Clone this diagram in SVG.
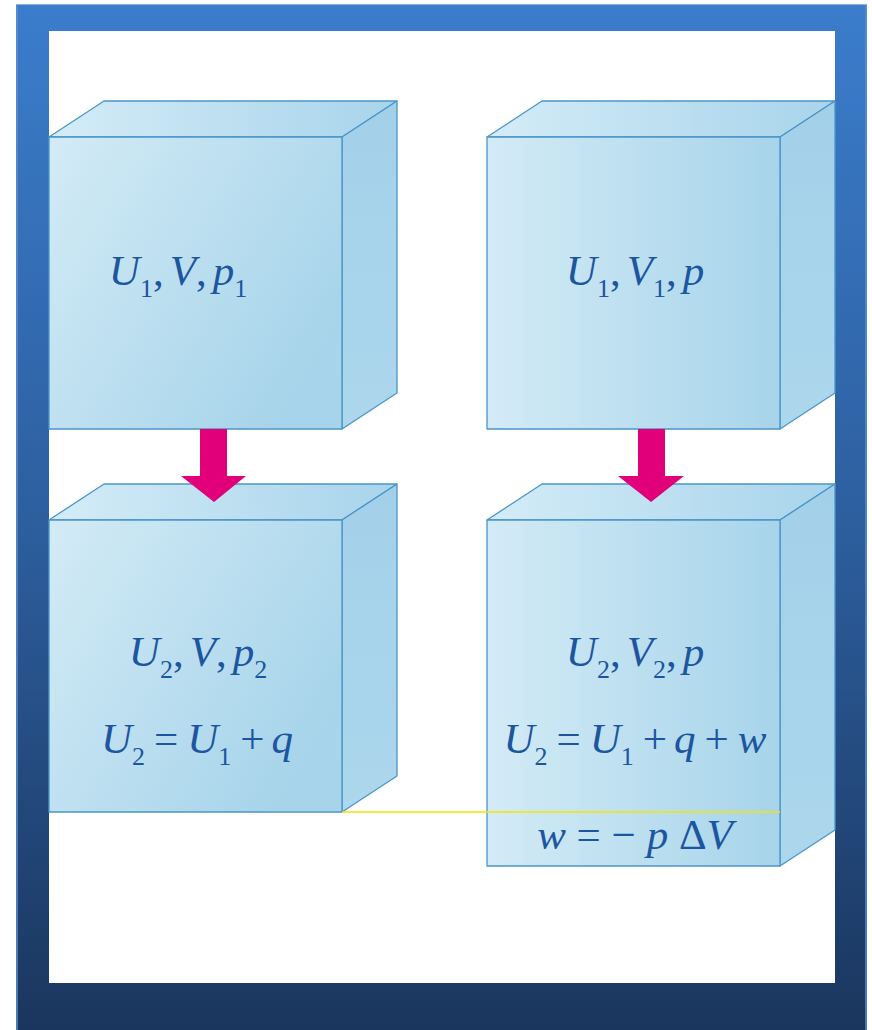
<svg xmlns="http://www.w3.org/2000/svg" width="872" height="1030" viewBox="0 0 872 1030">
<defs>
<linearGradient id="frameG" x1="0" y1="0" x2="0" y2="1">
<stop offset="0" stop-color="#3b7dcc"/>
<stop offset="0.5" stop-color="#2d5f9f"/>
<stop offset="1" stop-color="#1a365e"/>
</linearGradient>
<linearGradient id="frontG" x1="0" y1="0" x2="1" y2="0.6">
<stop offset="0" stop-color="#d3ebf6"/>
<stop offset="1" stop-color="#a7d4ea"/>
</linearGradient>
<linearGradient id="frontH" x1="0" y1="0" x2="1" y2="0">
<stop offset="0" stop-color="#d3ebf6"/>
<stop offset="1" stop-color="#a7d4ea"/>
</linearGradient>
<linearGradient id="topG" x1="0" y1="0" x2="1" y2="0">
<stop offset="0" stop-color="#d4ecf7"/>
<stop offset="1" stop-color="#a8d4eb"/>
</linearGradient>
<linearGradient id="sideG" x1="0" y1="0" x2="0" y2="1">
<stop offset="0" stop-color="#a3d0e9"/>
<stop offset="1" stop-color="#acd7ed"/>
</linearGradient>
</defs>
<style>
.face{stroke:#4b95c9;stroke-width:1.3;stroke-linejoin:round}
.front{fill:url(#frontG)}
.fronth{fill:url(#frontH)}
.top{fill:url(#topG)}
.side{fill:url(#sideG)}
.t{font-family:"Liberation Serif","Times New Roman",serif;font-size:43px;fill:#1c55a0;text-anchor:middle}
.i{font-style:italic}
.s{font-size:26px}
.arrow{fill:#e2007a}
</style>
<rect width="872" height="1030" fill="#ffffff"/>
<path d="M16,4H867V1030H16Z M49,31V983H835V31Z" fill="url(#frameG)" fill-rule="evenodd"/>
<line x1="17" y1="4" x2="17" y2="1030" stroke="#5b8fd2" stroke-width="1.5"/>
<line x1="866" y1="4" x2="866" y2="1030" stroke="#5b8fd2" stroke-width="1.5"/>
<line x1="16" y1="4.5" x2="867" y2="4.5" stroke="#8fb0dc" stroke-width="1"/>

<g id="box-1">
<polygon class="face top" points="49,137 104,101 397,101 342,137"/>
<polygon class="face side" points="342,137 397,101 397,393 342,429"/>
<rect class="face front" x="49" y="137" width="293" height="292"/>
<text class="t" x="178" y="285"><tspan class="i">U</tspan><tspan class="s" dy="12">1</tspan><tspan dy="-12">,</tspan><tspan class="i" dx="6">V</tspan>,<tspan class="i" dx="6">p</tspan><tspan class="s" dy="12">1</tspan></text>
</g>

<g id="box-2">
<polygon class="face top" points="487,137 542,101 835,101 780,137"/>
<polygon class="face side" points="780,137 835,101 835,393 780,429"/>
<rect class="face fronth" x="487" y="137" width="293" height="292"/>
<text class="t" x="635" y="285"><tspan class="i">U</tspan><tspan class="s" dy="12">1</tspan><tspan dy="-12">,</tspan><tspan class="i" dx="6">V</tspan><tspan class="s" dy="12">1</tspan><tspan dy="-12">,</tspan><tspan class="i" dx="6">p</tspan></text>
</g>

<g id="box-3">
<polygon class="face top" points="49,520 104,484 397,484 342,520"/>
<polygon class="face side" points="342,520 397,484 397,776 342,812"/>
<rect class="face front" x="49" y="520" width="293" height="292"/>
<text class="t" x="198" y="666"><tspan class="i">U</tspan><tspan class="s" dy="12">2</tspan><tspan dy="-12">,</tspan><tspan class="i" dx="6">V</tspan>,<tspan class="i" dx="6">p</tspan><tspan class="s" dy="12">2</tspan></text>
<text class="t" x="197" y="753"><tspan class="i">U</tspan><tspan class="s" dy="12">2</tspan><tspan dy="-12" dx="9">=</tspan><tspan class="i" dx="9">U</tspan><tspan class="s" dy="12">1</tspan><tspan dy="-12" dx="9">+</tspan><tspan class="i" dx="7">q</tspan></text>
</g>

<g id="box-4">
<polygon class="face top" points="487,520 542,484 835,484 780,520"/>
<polygon class="face side" points="780,520 835,484 835,830 780,866"/>
<rect class="face fronth" x="487" y="520" width="293" height="346"/>
<text class="t" x="635" y="666"><tspan class="i">U</tspan><tspan class="s" dy="12">2</tspan><tspan dy="-12">,</tspan><tspan class="i" dx="6">V</tspan><tspan class="s" dy="12">2</tspan><tspan dy="-12">,</tspan><tspan class="i" dx="6">p</tspan></text>
<text class="t" x="635" y="753"><tspan class="i">U</tspan><tspan class="s" dy="12">2</tspan><tspan dy="-12" dx="9">=</tspan><tspan class="i" dx="9">U</tspan><tspan class="s" dy="12">1</tspan><tspan dy="-12" dx="9">+</tspan><tspan class="i" dx="7">q</tspan><tspan dx="9">+</tspan><tspan class="i" dx="9">w</tspan></text>
<text class="t" x="635" y="849"><tspan class="i">w</tspan> = − <tspan class="i">p</tspan> Δ<tspan class="i">V</tspan></text>
</g>

<g id="connectors">
<line x1="342" y1="812" x2="780" y2="812" stroke="#f5e400" stroke-width="1.5"/>
<polygon class="arrow" points="200,429 227,429 227,476 246,476 214,502 181,476 200,476"/>
<polygon class="arrow" points="638,429 665,429 665,476 684,476 651,502 618,476 638,476"/>
</g>
</svg>
